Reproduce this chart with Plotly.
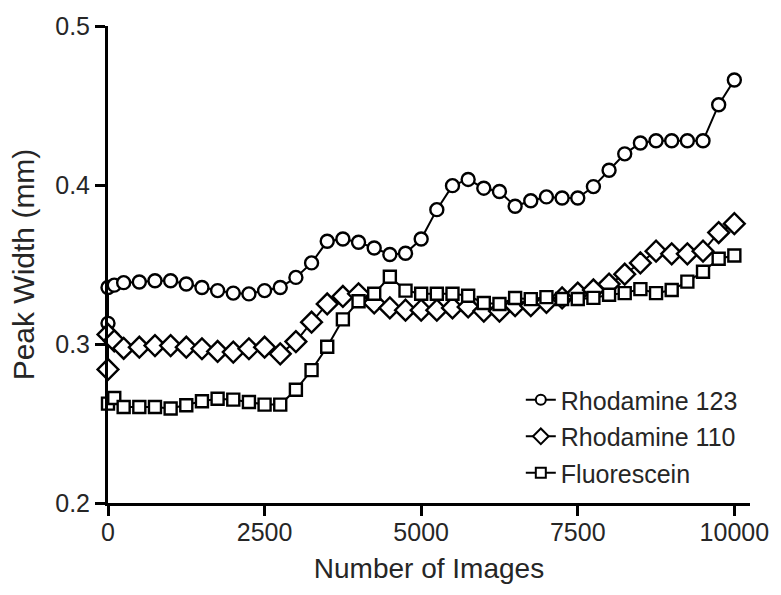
import plotly.graph_objects as go

# ---- data ----
x_r123 = [0, 0, 100, 250, 500, 750, 1000, 1250, 1500, 1750, 2000, 2250, 2500, 2750,
          3000, 3250, 3500, 3750, 4000, 4250, 4500, 4750, 5000, 5250, 5500, 5750,
          6000, 6250, 6500, 6750, 7000, 7250, 7500, 7750, 8000, 8250, 8500, 8750,
          9000, 9250, 9500, 9750, 10000]
y_r123 = [0.313, 0.3355, 0.337, 0.3386, 0.339, 0.3398, 0.3398, 0.3377, 0.3355, 0.3336,
          0.332, 0.3315, 0.3336, 0.3355, 0.3419, 0.351, 0.3646, 0.366, 0.364, 0.3604,
          0.3563, 0.3571, 0.366, 0.3845, 0.3996, 0.4035, 0.398, 0.3959, 0.3866, 0.3901,
          0.3925, 0.3918, 0.3918, 0.399, 0.4093, 0.4196, 0.4264, 0.4278, 0.4278, 0.4278,
          0.4278, 0.4505, 0.466]

x_r110 = [0, 0, 100, 250, 500, 750, 1000, 1250, 1500, 1750, 2000, 2250, 2500, 2750,
          3000, 3250, 3500, 3750, 4000, 4250, 4500, 4750, 5000, 5250, 5500, 5750,
          6000, 6250, 6500, 6750, 7000, 7250, 7500, 7750, 8000, 8250, 8500, 8750,
          9000, 9250, 9500, 9750, 10000]
y_r110 = [0.284, 0.306, 0.302, 0.2973, 0.298, 0.299, 0.299, 0.298, 0.297, 0.2953,
          0.2949, 0.297, 0.298, 0.2938, 0.3015, 0.3137, 0.3252, 0.3299, 0.3316, 0.3258,
          0.3227, 0.3213, 0.3213, 0.3213, 0.3227, 0.3233, 0.3207, 0.3207, 0.3241, 0.3241,
          0.3262, 0.329, 0.332, 0.334, 0.3377, 0.3439, 0.351, 0.3584, 0.3567, 0.3567,
          0.3584, 0.3701, 0.3757]

x_fluo = [0, 100, 250, 500, 750, 1000, 1250, 1500, 1750, 2000, 2250, 2500, 2750,
          3000, 3250, 3500, 3750, 4000, 4250, 4500, 4750, 5000, 5250, 5500, 5750,
          6000, 6250, 6500, 6750, 7000, 7250, 7500, 7750, 8000, 8250, 8500, 8750,
          9000, 9250, 9500, 9750, 10000]
y_fluo = [0.2625, 0.266, 0.2604, 0.2604, 0.2604, 0.2594, 0.2615, 0.264, 0.2656, 0.265,
          0.2635, 0.2619, 0.2619, 0.2712, 0.2836, 0.2983, 0.3155, 0.3269, 0.3316, 0.3423,
          0.3336, 0.3316, 0.3316, 0.3316, 0.3303, 0.3258, 0.3252, 0.3289, 0.3282, 0.3295,
          0.3283, 0.3283, 0.329, 0.331, 0.332, 0.3345, 0.332, 0.334, 0.3392, 0.3454,
          0.3536, 0.3557]

series_names = ["Rhodamine 123", "Rhodamine 110", "Fluorescein"]
x_ticks = [0, 2500, 5000, 7500, 10000]
y_ticks = [0.2, 0.3, 0.4, 0.5]

FONT = "Liberation Sans, Arial, sans-serif"
TXT = "#262626"

fig = go.Figure()
specs = [
    (x_r123, y_r123, series_names[0], "circle", 13, 10),
    (x_r110, y_r110, series_names[1], "diamond", 16, 12),
    (x_fluo, y_fluo, series_names[2], "square", 12, 10),
]
for i, (xs, ys, name, sym, size, lsize) in enumerate(specs):
    fig.add_trace(go.Scatter(
        x=xs, y=ys, name=name, mode="lines+markers",
        line=dict(color="black", width=2),
        marker=dict(symbol=sym, size=size, color="white",
                    line=dict(color="black", width=2.4)),
        showlegend=False, cliponaxis=False,
    ))
    # legend entry with smaller symbol, as in the original key
    fig.add_trace(go.Scatter(
        x=[None], y=[None], name=name, mode="lines+markers",
        line=dict(color="black", width=2),
        marker=dict(symbol=sym, size=lsize, color="white",
                    line=dict(color="black", width=2)),
        legendgroup=f"g{i}", showlegend=True,
    ))

fig.update_layout(
    width=781, height=595,
    margin=dict(l=108, r=25, t=18, b=92),
    paper_bgcolor="white", plot_bgcolor="white",
    font=dict(family=FONT, size=24, color=TXT),
    showlegend=True,
    legend=dict(x=0.643, y=0.264, xanchor="left", yanchor="top",
                bgcolor="rgba(0,0,0,0)", font=dict(size=25, color=TXT),
                tracegroupgap=1, itemwidth=30),
    xaxis=dict(range=[0, 10250], tickvals=x_ticks,
               ticktext=[str(v) for v in x_ticks],
               showgrid=False, zeroline=False, showline=True,
               linecolor="black", linewidth=3,
               ticks="outside", ticklen=10, tickwidth=3, tickcolor="black",
               tickfont=dict(size=25, color=TXT), ticklabelstandoff=-5,
               title=dict(text="Number of Images", font=dict(size=28, color=TXT), standoff=14)),
    yaxis=dict(range=[0.2, 0.5], tickvals=y_ticks,
               ticktext=["0.2", "0.3", "0.4", "0.5"],
               showgrid=False, zeroline=False, showline=True,
               linecolor="black", linewidth=3,
               ticks="outside", ticklen=10, tickwidth=3, tickcolor="black",
               tickfont=dict(size=25, color=TXT),
               title=dict(text="Peak Width (mm)", font=dict(size=30, color=TXT), standoff=12)),
)

fig.write_html("out.html")
